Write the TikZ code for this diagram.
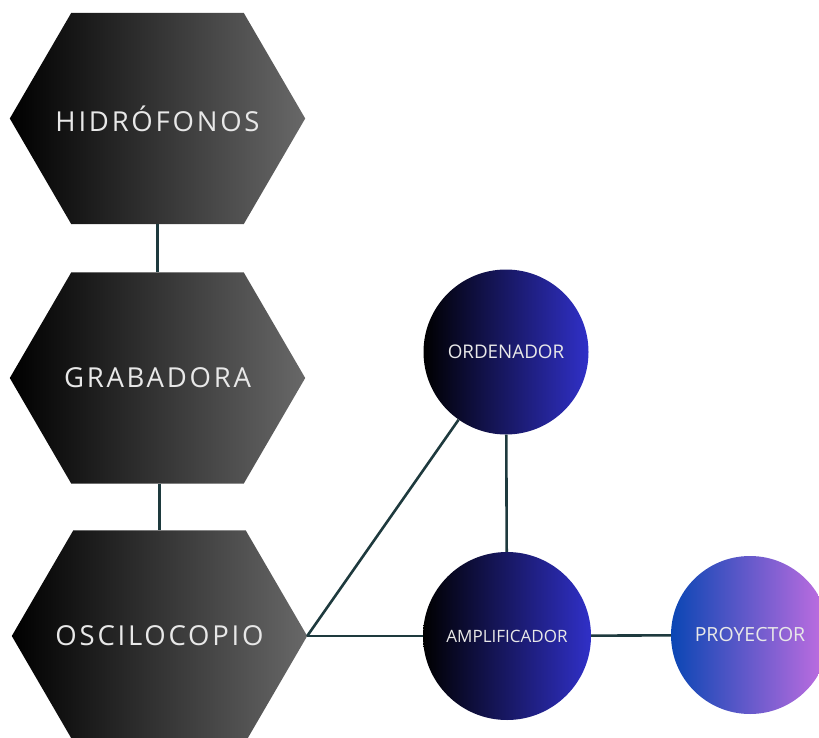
\documentclass[tikz,border=0pt]{standalone}
\usepackage{fontspec}
\setmainfont{Open Sans}
\newfontfamily\hexfont[LetterSpace=10]{Open Sans}
\newfontfamily\circfont{Open Sans}
\usetikzlibrary{backgrounds,calc}
\definecolor{linec}{HTML}{1E3A3E}
\definecolor{hexR}{HTML}{686868}
\definecolor{blueR}{HTML}{3030C8}
\definecolor{blueL}{HTML}{000000}
\definecolor{proL}{HTML}{0A46B4}
\definecolor{proR}{HTML}{C46EE2}
\definecolor{txt}{HTML}{E8E8E8}
\tikzset{
  hexnode/.style={rectangle, minimum width=295pt, minimum height=211pt, inner sep=0pt,
    text=txt, font=\hexfont\fontsize{27.5}{32}\selectfont},
  hexfill/.style={left color=black, right color=hexR},
  circnode/.style={circle, inner sep=0pt, text=txt, font=\circfont\fontsize{18.8}{22}\selectfont},
  bluecirc/.style={circnode, left color=blueL, right color=blueR},
  procirc/.style={circnode, left color=proL, right color=proR},
  conn/.style={draw=linec, line width=2.6pt}
}
\newcommand{\hexpath}[1]{%
  (#1.west) -- ([xshift=61.5pt]#1.north west) -- ([xshift=-61.5pt]#1.north east) --
  (#1.east) -- ([xshift=-61.5pt]#1.south east) -- ([xshift=61.5pt]#1.south west) -- cycle}
\begin{document}
\begin{tikzpicture}[x=1pt,y=-1pt]
\useasboundingbox (0,0) rectangle (819,738);
\clip (0,0) rectangle (819,738);
\node[hexnode] (hid) at (157.5,118.5) {HIDRÓFONOS};
\node[hexnode] (gra) at (157.5,378) {GRABADORA};
\node[hexnode] (osc) at (159.5,636) {OSCILOCOPIO};
\begin{scope}[on background layer]
  \shade[hexfill] \hexpath{hid};
  \shade[hexfill] \hexpath{gra};
  \shade[hexfill] \hexpath{osc};
\end{scope}
\node[bluecirc, minimum size=165pt] (ord) at (506,352) {ORDENADOR};
\node[bluecirc, minimum size=168pt, font=\circfont\fontsize{17}{20}\selectfont] (amp) at (507,636) {AMPLIFICADOR};
\node[procirc, minimum size=158pt, font=\circfont\fontsize{19.5}{22}\selectfont] (pro) at (750,635) {PROYECTOR};
\draw[conn] (hid.south) -- (gra.north);
\draw[conn] (osc.north |- gra.south) -- (osc.north);
\draw[conn] (osc.east) -- (ord);
\draw[conn] (osc.east) -- (amp.west);
\draw[conn] (ord) -- (amp);
\draw[conn] (amp) -- (pro);
\end{tikzpicture}
\end{document}
